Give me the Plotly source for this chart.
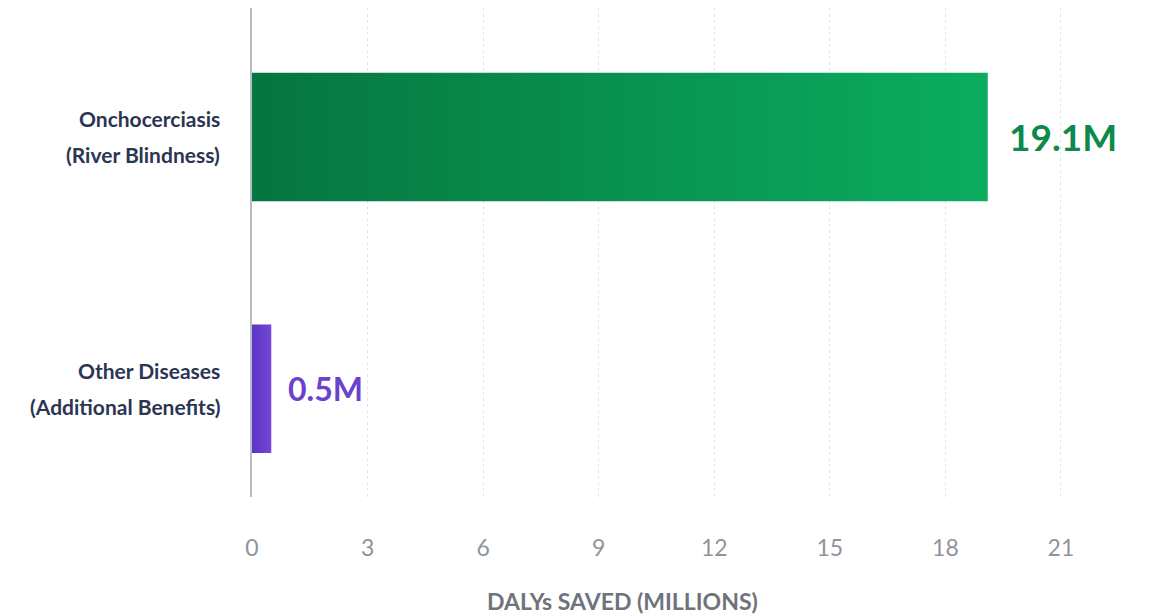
import plotly.graph_objects as go

# Data
category_lines = [
    ["Onchocerciasis", "(River Blindness)"],
    ["Other Diseases", "(Additional Benefits)"],
]
dalys_saved = [19.1, 0.5]
value_labels = ["19.1M", "0.5M"]
tick_values = [0, 3, 6, 9, 12, 15, 18, 21]
axis_title = "DALYs SAVED (MILLIONS)"

# Styling
bar_gradients = [
    [[0, "#067540"], [1, "#0bad5f"]],
    [[0, "#5a34c2"], [1, "#7447d8"]],
]
label_colors = ["#0d8a4b", "#6a42cc"]
label_sizes = [37, 32]
label_gaps = [19, 15]
half_height = 0.255
font_family = "Lato, 'Open Sans', sans-serif"

fig = go.Figure()

for i, (val, grad) in enumerate(zip(dalys_saved, bar_gradients)):
    y0, y1 = i - half_height, i + half_height
    fig.add_trace(go.Scatter(
        x=[0, val, val, 0, 0],
        y=[y0, y0, y1, y1, y0],
        mode="lines",
        line=dict(width=0),
        fill="toself",
        fillgradient=dict(type="horizontal", colorscale=grad),
        hoverinfo="skip",
        showlegend=False,
    ))
    # value label at the bar end
    fig.add_annotation(
        x=val, y=i, xref="x", yref="y",
        text=f"<b>{value_labels[i]}</b>",
        showarrow=False, xanchor="left", xshift=label_gaps[i],
        font=dict(family=font_family, size=label_sizes[i], color=label_colors[i]),
    )
    # two-line category label to the left of the axis
    for line, shift in zip(category_lines[i], (18, -18)):
        fig.add_annotation(
            x=0, y=i, xref="paper", yref="y",
            text=f"<b>{line}</b>",
            showarrow=False, xanchor="right", yanchor="middle",
            xshift=-30, yshift=shift,
            font=dict(family=font_family, size=21, color="#2c3552"),
        )

fig.add_annotation(
    x=0.4187, y=-0.212, xref="paper", yref="paper",
    text=f"<b>{axis_title}</b>",
    showarrow=False, xanchor="center", yanchor="middle",
    font=dict(family=font_family, size=23, color="#6e737c"),
)

fig.update_layout(
    width=1163, height=616,
    margin=dict(l=252, r=25, t=8, b=119),
    paper_bgcolor="white", plot_bgcolor="white",
    showlegend=False,
    font=dict(family=font_family),
)

fig.update_xaxes(
    range=[0, 23],
    tickvals=tick_values,
    ticktext=[str(t) for t in tick_values],
    tickfont=dict(size=23, color="#8f949c"),
    ticks="", ticklabelstandoff=35,
    showgrid=True, gridcolor="#e2e4e8", griddash="dot", gridwidth=1,
    zeroline=False, showline=False,
)

fig.update_yaxes(
    range=[1.43, -0.512],
    tickvals=[0, 1],
    ticktext=["", ""],
    ticks="",
    showgrid=False, zeroline=False,
    showline=True, linecolor="#b7bcc6", linewidth=2,
)

fig.write_html("out.html")
